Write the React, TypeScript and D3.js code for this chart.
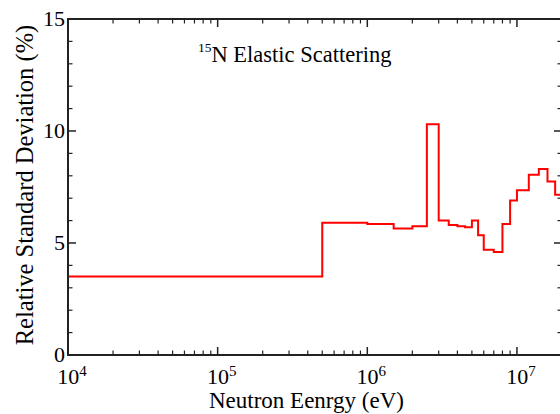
import React from "react";
import * as d3 from "d3";

const edges = [1e4, 5e5, 1e6, 1.5e6, 2e6, 2.5e6, 3e6, 3.5e6, 4e6, 4.5e6, 5e6, 5.5e6, 6e6, 7e6, 8e6, 9e6, 1e7, 1.2e7, 1.4e7, 1.6e7, 1.8e7, 2e7];
const values = [3.5, 5.9, 5.85, 5.65, 5.75, 10.3, 6.0, 5.8, 5.75, 5.7, 6.0, 5.35, 4.7, 4.6, 5.85, 6.9, 7.35, 8.05, 8.3, 7.75, 7.15];
const xMajor = [1e4, 1e5, 1e6, 1e7];
const xMajorExp = ["4", "5", "6", "7"];
const yMajor = [0, 5, 10, 15];
const yMinor = [1, 2, 3, 4, 6, 7, 8, 9, 11, 12, 13, 14];

const W = 560, H = 414;
const L = 68, R = 562, T = 19, B = 355;
const FONT = "Liberation Serif";

export default function App() {
  const x = d3.scaleLog().domain([1e4, 2e7]).range([L, R]);
  const y = d3.scaleLinear().domain([0, 15]).range([B, T]);

  const pts: [number, number][] = [];
  values.forEach((v, i) => {
    pts.push([edges[i], v]);
    pts.push([edges[i + 1], v]);
  });
  const line = d3.line<[number, number]>().x(d => x(d[0])).y(d => y(d[1]));

  const xMinor: number[] = [];
  for (let dcd = 1e4; dcd < 2e7; dcd *= 10) {
    for (let m = 2; m <= 9; m++) {
      const v = dcd * m;
      if (v <= 2e7) xMinor.push(v);
    }
  }
  const axisColor = "#222";

  return (
    <svg width={W} height={H} style={{ position: "absolute", left: 0, top: 0 }}>
      <rect x={0} y={0} width={W} height={H} fill="#fff" />
      <path d={line(pts) || ""} fill="none" stroke="#ff0000" strokeWidth={2} strokeLinejoin="miter" />
      <rect x={L} y={T} width={R - L} height={B - T} fill="none" stroke={axisColor} strokeWidth={2} />
      {xMajor.map(v => (
        <g key={"xm" + v}>
          <line x1={x(v)} x2={x(v)} y1={B} y2={B - 8} stroke={axisColor} strokeWidth={1.5} />
          <line x1={x(v)} x2={x(v)} y1={T} y2={T + 8} stroke={axisColor} strokeWidth={1.5} />
        </g>
      ))}
      {xMinor.map(v => (
        <g key={"xn" + v}>
          <line x1={x(v)} x2={x(v)} y1={B} y2={B - 4.5} stroke={axisColor} strokeWidth={1.2} />
          <line x1={x(v)} x2={x(v)} y1={T} y2={T + 4.5} stroke={axisColor} strokeWidth={1.2} />
        </g>
      ))}
      {yMajor.map(v => (
        <g key={"ym" + v}>
          <line x1={L} x2={L + 8} y1={y(v)} y2={y(v)} stroke={axisColor} strokeWidth={1.5} />
          <line x1={R} x2={R - 8} y1={y(v)} y2={y(v)} stroke={axisColor} strokeWidth={1.5} />
        </g>
      ))}
      {yMinor.map(v => (
        <g key={"yn" + v}>
          <line x1={L} x2={L + 4.5} y1={y(v)} y2={y(v)} stroke={axisColor} strokeWidth={1.2} />
          <line x1={R} x2={R - 4.5} y1={y(v)} y2={y(v)} stroke={axisColor} strokeWidth={1.2} />
        </g>
      ))}
      {yMajor.map(v => (
        <text key={"yl" + v} x={L - 3} y={y(v) + 7} textAnchor="end" fontSize={22} fontFamily={FONT} fill="#000">{v}</text>
      ))}
      {xMajor.map((v, i) => (
        <text key={"xl" + v} x={x(v) + 4} y={384} textAnchor="middle" fontSize={22} fontFamily={FONT} fill="#000">
          10<tspan fontSize={15} fontFamily={FONT} dy={-8}>{xMajorExp[i]}</tspan>
        </text>
      ))}
      <text x={306.5} y={408} textAnchor="middle" fontSize={23} fontFamily={FONT} fill="#000">Neutron Eenrgy (eV)</text>
      <text transform={`translate(33,185) rotate(-90)`} textAnchor="middle" fontSize={24.5} fontFamily={FONT} fill="#000">Relative Standard Deviation (%)</text>
      <text x={198} y={62} textAnchor="start" fontSize={22.5} fontFamily={FONT} fill="#000">
        <tspan fontSize={13.5} fontFamily={FONT} dy={-10}>15</tspan><tspan fontFamily={FONT} dy={10}>N Elastic Scattering</tspan>
      </text>
    </svg>
  );
}
